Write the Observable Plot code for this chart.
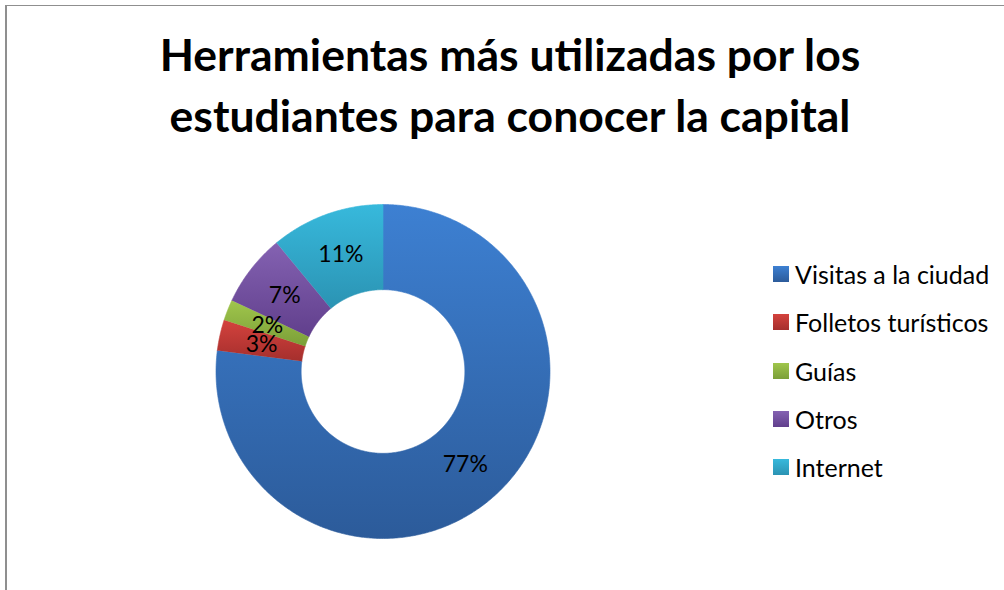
<!DOCTYPE html>
<html>
<head>
<meta charset="utf-8">
<script src="https://cdn.jsdelivr.net/npm/d3@7"></script>
<script src="https://cdn.jsdelivr.net/npm/@observablehq/plot@0.6"></script>
<style>
  html, body { margin: 0; padding: 0; background: #fff; }
  body { width: 1004px; height: 590px; position: relative; overflow: hidden; font-family: Lato, "Open Sans", sans-serif; }
  #frame { position: absolute; left: 5px; top: 5px; width: 1100px; height: 700px; border-left: 2px solid #8f8f8f; border-top: 1.5px solid #8f8f8f; }
  #title { position: absolute; left: 0; width: 1020px; top: 23px; text-align: center; font-weight: bold; font-size: 44.5px; line-height: 61px; color: #000; }
  #chart { position: absolute; left: 0; top: 0; }
  #legend { position: absolute; left: 773px; top: 259px; }
  .item { position: absolute; left: 0; display: flex; align-items: center; white-space: nowrap; font-size: 25px; color: #000; }
  .sw { width: 16px; height: 16px; margin-right: 6px; }
</style>
</head>
<body>
<div id="frame"></div>
<div id="title">Herramientas más utilizadas por los<br>estudiantes para conocer la capital</div>
<div id="chart"></div>
<div id="legend"></div>
<script>
const categories = ["Visitas a la ciudad", "Folletos turísticos", "Guías", "Otros", "Internet"];
const values = [77, 3, 2, 7, 11];
const labels = ["77%", "3%", "2%", "7%", "11%"];
const colorsTop = ["#3d80d2", "#d4423d", "#a0c64c", "#8462b2", "#37b9dc"];
const colorsBottom = ["#2c5b9a", "#a52f2d", "#7b9f38", "#613f8c", "#2b93b3"];

const innerRatio = 0.49;
const pie = d3.pie().sort(null).value(d => d.value);
const slices = pie(categories.map((c, i) => ({category: c, value: values[i], label: labels[i], i})));

// polygons in unit-circle coordinates (angle clockwise from 12 o'clock)
function arcPolygon(s) {
  const pts = [];
  const n = Math.max(4, Math.ceil((s.endAngle - s.startAngle) / 0.01));
  for (let k = 0; k <= n; k++) {
    const a = s.startAngle + (s.endAngle - s.startAngle) * k / n;
    pts.push({x: Math.sin(a), y: Math.cos(a), i: s.data.i});
  }
  for (let k = n; k >= 0; k--) {
    const a = s.startAngle + (s.endAngle - s.startAngle) * k / n;
    pts.push({x: innerRatio * Math.sin(a), y: innerRatio * Math.cos(a), i: s.data.i});
  }
  return pts;
}
const centroids = slices.map(s => {
  const a = (s.startAngle + s.endAngle) / 2, r = (1 + innerRatio) / 2;
  return {x: r * Math.sin(a), y: r * Math.cos(a), label: s.data.label};
});

const cx = 382.5, cy = 371, R = 167;
const marks = slices.map(s => Plot.line(arcPolygon(s), {
  x: "x", y: "y", fill: `url(#g${s.data.i})`, stroke: `url(#g${s.data.i})`, strokeWidth: 0.6, curve: "linear"
}));
marks.push(Plot.text(centroids, {x: "x", y: "y", text: "label", fontSize: 23, fill: "#000", fontFamily: "Lato"}));

const plot = Plot.plot({
  width: 1004, height: 590,
  margin: 0,
  x: {domain: [-1, 1], range: [cx - R, cx + R], axis: null},
  y: {domain: [-1, 1], range: [cy + R, cy - R], axis: null},
  style: {background: "transparent", overflow: "visible"},
  marks
});
const defs = document.createElementNS("http://www.w3.org/2000/svg", "defs");
defs.innerHTML = categories.map((c, i) =>
  `<linearGradient id="g${i}" x1="0" y1="0" x2="0" y2="1"><stop offset="0" stop-color="${colorsTop[i]}"/><stop offset="1" stop-color="${colorsBottom[i]}"/></linearGradient>`).join("");
plot.insertBefore(defs, plot.firstChild);
document.getElementById("chart").appendChild(plot);

const legend = document.getElementById("legend");
categories.forEach((c, i) => {
  const div = document.createElement("div");
  div.className = "item";
  div.style.top = (i * 48.3) + "px";
  div.innerHTML = `<span class="sw" style="background:linear-gradient(${colorsTop[i]}, ${colorsBottom[i]})"></span><span>${c}</span>`;
  legend.appendChild(div);
});
</script>
</body>
</html>
